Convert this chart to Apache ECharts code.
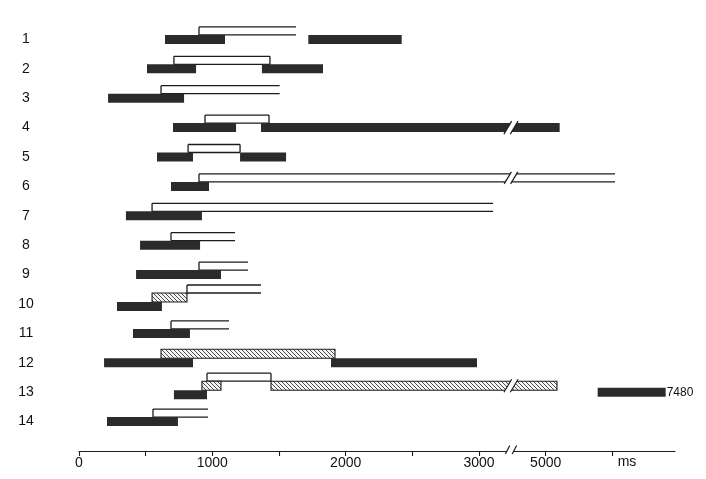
<!DOCTYPE html>
<html>
<head>
<meta charset="utf-8">
<script src="https://cdn.jsdelivr.net/npm/echarts@6/dist/echarts.min.js"></script>
<style>
  html, body { margin: 0; padding: 0; background: #ffffff; }
  #chart { width: 706px; height: 479px; }
</style>
</head>
<body>
<div id="chart"></div>
<script>
// ---------------- data (ms) ----------------
const rowLabels = ['1', '2', '3', '4', '5', '6', '7', '8', '9', '10', '11', '12', '13', '14'];
const xTickLabels = [0, 1000, 2000, 3000, 5000];
const axisUnit = 'ms';

// axis break: the span between these two times is cut out of the time axis
const breakFrom = 3240;
const breakTo = 4740;
const axisEndMs = 5970;

// solid dark bars: [row, start, end]
const darkBars = [
  [1, 645, 1095], [1, 1720, 2420],
  [2, 510, 878], [2, 1372, 1830],
  [3, 218, 788],
  [4, 705, 1178], [4, 1365, 5105],
  [5, 585, 855], [5, 1208, 1553],
  [6, 690, 975],
  [7, 352, 922],
  [8, 458, 908],
  [9, 428, 1065],
  [10, 285, 622],
  [11, 405, 832],
  [12, 188, 855], [12, 1890, 2985],
  [13, 712, 960],
  [14, 210, 742]
];

// hatched bars: [row, start, end]
const hatchedBars = [
  [10, 548, 810],
  [12, 615, 1920],
  [13, 922, 1065], [13, 1440, 5085]
];

// open / closed outline boxes: [row, start, end, closed(1) or open(0)]
const outlineBoxes = [
  [1, 900, 1628, 0],
  [2, 712, 1432, 1],
  [3, 615, 1505, 0],
  [4, 945, 1425, 1],
  [5, 818, 1208, 1],
  [6, 900, 5520, 0],
  [7, 548, 3105, 0],
  [8, 690, 1170, 0],
  [9, 900, 1268, 0],
  [10, 810, 1365, 0],
  [11, 690, 1125, 0],
  [13, 960, 1440, 1],
  [14, 555, 968, 0]
];

// bar drawn beyond the axis with its value written next to it
const offScaleBars = [[13, 5390, 5900]];
const offScaleValues = [7480];

// ---------------- helpers ----------------
const GAP = breakTo - breakFrom;
function toAxis(ms) {
  if (ms <= breakFrom) return ms;
  if (ms >= breakTo) return ms - GAP;
  return breakFrom;
}
function fromAxis(v) { return v <= breakFrom ? v : v + GAP; }
const breakAxis = toAxis(breakFrom);

const BAR_H = 9;
const BOX_H = 8;
const DARK = '#2b2b2b';
const INK = '#1c1c1c';
const FONT = "'Liberation Sans', Arial, Helvetica, sans-serif";

function boxLevel(row, start) {
  for (const h of hatchedBars) {
    if (h[0] === row && h[1] <= start + 5 && h[2] >= start - 5) return 2;
  }
  return 1;
}
const shiftedRows = new Set(outlineBoxes.filter(b => boxLevel(b[0], b[1]) === 2).map(b => b[0]));
function rowCenter(api, row) {
  return api.coord([0, row])[1] + (shiftedRows.has(row) ? 2.5 : 0);
}

// hatch pattern
const hatch = document.createElement('canvas');
hatch.width = 4; hatch.height = 4;
(function () {
  const g = hatch.getContext('2d');
  g.fillStyle = '#f4f4f4'; g.fillRect(0, 0, 4, 4);
  g.strokeStyle = '#3a3a3a'; g.lineWidth = 0.9;
  g.beginPath();
  g.moveTo(0, 0); g.lineTo(4, 4);
  g.moveTo(-2, 2); g.lineTo(2, 6);
  g.moveTo(2, -2); g.lineTo(6, 2);
  g.stroke();
})();

function breakMark(children, api, row, s, e, yTop, yBot, ext) {
  if (!(s < breakAxis && e > breakAxis)) return;
  const xc = api.coord([breakAxis, row])[0];
  const yt = yTop - ext, yb = yBot + ext;
  const sl = (yb - yt) * 0.3;
  const w = 3.2;
  children.push({
    type: 'polygon',
    shape: { points: [[xc - w - sl, yb], [xc - w + sl, yt], [xc + w + sl, yt], [xc + w - sl, yb]] },
    style: { fill: '#ffffff' }
  });
  children.push({ type: 'line', shape: { x1: xc - w - sl, y1: yb, x2: xc - w + sl, y2: yt }, style: { stroke: INK, lineWidth: 1.2 } });
  children.push({ type: 'line', shape: { x1: xc + w - sl, y1: yb, x2: xc + w + sl, y2: yt }, style: { stroke: INK, lineWidth: 1.2 } });
}

function tr(arr) { return arr.map(d => [d[0], toAxis(d[1]), toAxis(d[2])].concat(d.slice(3))); }

// ---------------- chart ----------------
const chart = echarts.init(document.getElementById('chart'), null, { renderer: 'canvas' });

const option = {
  animation: false,
  backgroundColor: '#ffffff',
  grid: { left: 79, right: 31, top: 10, bottom: 28 },
  xAxis: {
    type: 'value',
    position: 'bottom',
    min: 0,
    max: toAxis(axisEndMs),
    interval: 500,
    name: axisUnit,
    nameLocation: 'end',
    nameGap: -48,
    nameTextStyle: { fontFamily: FONT, fontSize: 14, color: '#111', align: 'center', verticalAlign: 'top', padding: [4, 0, 0, 0] },
    axisLine: { show: true, onZero: false, lineStyle: { color: INK, width: 1.2 } },
    axisTick: { show: true, length: 5, inside: false, lineStyle: { color: INK, width: 1.1 } },
    splitLine: { show: false },
    axisLabel: {
      margin: 5,
      fontFamily: FONT,
      fontSize: 14,
      color: '#111',
      showMinLabel: true,
      showMaxLabel: false,
      formatter: function (v) {
        const real = Math.round(fromAxis(v));
        return xTickLabels.indexOf(real) >= 0 ? String(real) : '';
      }
    }
  },
  yAxis: {
    type: 'value',
    inverse: true,
    min: 0,
    max: 15,
    interval: 1,
    axisLine: { show: false },
    axisTick: { show: false },
    splitLine: { show: false },
    axisLabel: {
      margin: 53,
      align: 'center',
      fontFamily: FONT,
      fontSize: 14,
      color: '#111',
      padding: [0, 0, 4, 0],
      formatter: function (v) { return rowLabels[v - 1] || ''; }
    }
  },
  series: [
    {
      type: 'custom',
      name: 'boxes',
      z: 2,
      clip: false,
      encode: { x: [1, 2], y: 0 },
      data: tr(outlineBoxes),
      renderItem: function (params, api) {
        const row = api.value(0), s = api.value(1), e = api.value(2), closed = api.value(3);
        const x0 = api.coord([s, row])[0], x1 = api.coord([e, row])[0];
        const lvl = boxLevel(row, fromAxis(s));
        const cy = rowCenter(api, row);
        const bottom = cy - BAR_H / 2 - (lvl - 1) * BAR_H;
        const top = bottom - BOX_H;
        const st = { stroke: INK, lineWidth: 1.3, fill: null };
        const children = [
          { type: 'line', shape: { x1: x0, y1: bottom, x2: x0, y2: top }, style: st },
          { type: 'line', shape: { x1: x0, y1: top, x2: x1, y2: top }, style: st },
          { type: 'line', shape: { x1: x0, y1: bottom, x2: x1, y2: bottom }, style: st }
        ];
        if (closed) children.push({ type: 'line', shape: { x1: x1, y1: top, x2: x1, y2: bottom }, style: st });
        breakMark(children, api, row, s, e, top, bottom, 2);
        return { type: 'group', children: children };
      }
    },
    {
      type: 'custom',
      name: 'hatched',
      z: 3,
      clip: false,
      encode: { x: [1, 2], y: 0 },
      data: tr(hatchedBars),
      renderItem: function (params, api) {
        const row = api.value(0), s = api.value(1), e = api.value(2);
        const x0 = api.coord([s, row])[0], x1 = api.coord([e, row])[0];
        const cy = rowCenter(api, row);
        const y0 = cy - BAR_H / 2 - BAR_H;
        const children = [{
          type: 'rect',
          shape: { x: x0, y: y0, width: x1 - x0, height: BAR_H },
          style: { fill: { image: hatch, repeat: 'repeat' }, stroke: INK, lineWidth: 1.1 }
        }];
        breakMark(children, api, row, s, e, y0, y0 + BAR_H, 2);
        return { type: 'group', children: children };
      }
    },
    {
      type: 'custom',
      name: 'dark',
      z: 4,
      clip: false,
      encode: { x: [1, 2], y: 0 },
      data: tr(darkBars),
      renderItem: function (params, api) {
        const row = api.value(0), s = api.value(1), e = api.value(2);
        const x0 = api.coord([s, row])[0], x1 = api.coord([e, row])[0];
        const cy = rowCenter(api, row);
        const y0 = cy - BAR_H / 2;
        const children = [{
          type: 'rect',
          shape: { x: x0, y: y0, width: x1 - x0, height: BAR_H },
          style: { fill: DARK }
        }];
        breakMark(children, api, row, s, e, y0, y0 + BAR_H, 2);
        return { type: 'group', children: children };
      }
    },
    {
      type: 'custom',
      name: 'offscale',
      z: 4,
      clip: false,
      encode: { x: [1, 2], y: 0 },
      data: tr(offScaleBars).map((d, i) => [d[0], d[1], d[2], offScaleValues[i]]),
      renderItem: function (params, api) {
        const row = api.value(0), s = api.value(1), e = api.value(2);
        const x0 = api.coord([s, row])[0], x1 = api.coord([e, row])[0];
        const cy = api.coord([0, row])[1];
        const y0 = cy - BAR_H / 2;
        return {
          type: 'group',
          children: [
            { type: 'rect', shape: { x: x0, y: y0, width: x1 - x0, height: BAR_H }, style: { fill: DARK } },
            { type: 'text', x: x1 + 1, y: cy, style: { text: String(api.value(3)), fontFamily: FONT, fontSize: 12, fill: '#111', textAlign: 'left', textVerticalAlign: 'middle' } }
          ]
        };
      }
    },
    {
      type: 'custom',
      name: 'axisbreak',
      z: 5,
      clip: false,
      encode: { x: 0 },
      data: [[breakAxis]],
      renderItem: function (params, api) {
        const p = api.coord([api.value(0), 15]);
        const children = [];
        const xc = p[0], yt = p[1] - 5.5, yb = p[1] + 3;
        const sl = 2.2, w = 3.4;
        children.push({ type: 'polygon', shape: { points: [[xc - w - sl, p[1] + 1.5], [xc - w + sl, p[1] - 1.5], [xc + w + sl, p[1] - 1.5], [xc + w - sl, p[1] + 1.5]] }, style: { fill: '#fff' } });
        children.push({ type: 'line', shape: { x1: xc - w - sl, y1: yb, x2: xc - w + sl, y2: yt }, style: { stroke: INK, lineWidth: 1.2 } });
        children.push({ type: 'line', shape: { x1: xc + w - sl, y1: yb, x2: xc + w + sl, y2: yt }, style: { stroke: INK, lineWidth: 1.2 } });
        return { type: 'group', children: children };
      }
    }
  ]
};

chart.setOption(option);
</script>
</body>
</html>
